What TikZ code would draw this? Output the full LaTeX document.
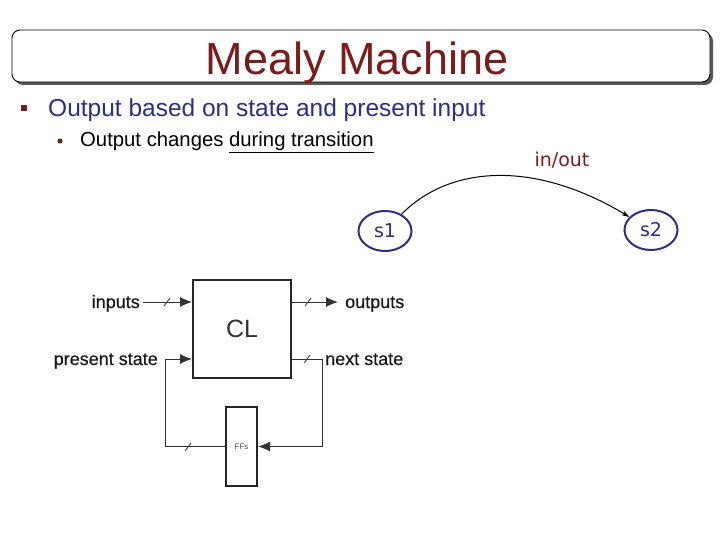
\documentclass[tikz,border=0pt]{standalone}
\usepackage{fontspec}
\setmainfont{Liberation Sans}
\newfontfamily\dejavu{DejaVu Sans}
\newfontfamily\lblfont[FakeBold=0.5]{Liberation Sans}
\usetikzlibrary{arrows.meta,shapes.geometric}
\definecolor{titlered}{HTML}{7B1C1C}
\definecolor{slideblue}{HTML}{2E2E84}
\definecolor{wiregray}{HTML}{333333}
\tikzset{
  lbl/.style={inner sep=0pt, text=black!90, font=\lblfont\fontsize{18}{18}\selectfont},
  blockbox/.style={draw=black!85, line width=2pt, inner sep=0pt},
  wire/.style={draw=wiregray, line width=1pt},
  tip/.style={-{Latex[length=12pt,width=10pt]}},
  slash/.style={draw=wiregray, line width=0.8pt},
  statenode/.style={ellipse, draw=slideblue, line width=2pt, minimum width=53pt, minimum height=40pt, inner sep=0pt, text=slideblue, font=\dejavu\fontsize{19}{19}\selectfont},
}
\begin{document}
\begin{tikzpicture}[x=1pt,y=-1pt]
\useasboundingbox (0,0) rectangle (720,540);
% title bar
\fill[black!65, rounded corners=8pt] (15,33) rectangle (713,85);
\draw[black, line width=0.9pt, fill=white, rounded corners=8pt] (12,30) rectangle (710,82);
\node[anchor=base, inner sep=0pt, text=titlered, font=\fontsize{45}{45}\selectfont] (title) at (357,75) {Mealy Machine};
% bullets
\fill[titlered] (21,105) rectangle (27,111);
\node[anchor=base west, inner sep=0pt, text=slideblue, font=\fontsize{24.5}{24.5}\selectfont] (b1) at (48,117) {Output based on state and present input};
\fill[titlered] (60,141) circle (2.6pt);
\node[anchor=base west, inner sep=0pt, text=black, font=\fontsize{20.3}{20.3}\selectfont] (b2) at (80,147) {Output changes \underline{during transition}};
% state diagram
\node[statenode] (s1) at (385,231) {s1};
\node[statenode] (s2) at (651,230) {s2};
\draw[line width=1pt, -{Stealth[length=8pt,width=5pt]}] (s1) .. controls (450,165) and (535,160) .. (s2);
\node[text=titlered, inner sep=0pt, font=\dejavu\fontsize{19}{19}\selectfont] (io) at (562,160) {in/out};
% block diagram
\node[blockbox, minimum width=98pt, minimum height=98pt, text=black!80, font=\fontsize{25}{25}\selectfont] (cl) at (242,329) {CL};
\node[blockbox, minimum width=31pt, minimum height=79pt, text=black!70, font=\fontsize{8}{8}\selectfont] (ff) at (241.5,446.5) {FFs};
\node[lbl, anchor=base east] (inp) at (140,308) {inputs};
\node[lbl, anchor=base west] (outp) at (345,308) {outputs};
\node[lbl, anchor=base east] (ps) at (158,365) {present state};
\node[lbl, anchor=base west] (ns) at (325,365) {next state};
\coordinate (inl) at (143,302);
\coordinate (outl) at (338,302);
\coordinate (psc) at (165,359);
\coordinate (nsc) at (322,359);
\draw[wire, tip] (inl) -- (cl.west |- inl);
\draw[wire, tip] (cl.east |- outl) -- (outl);
\draw[wire, tip] (psc) -- (cl.west |- psc);
\draw[wire] (psc) |- (ff.west);
\draw[wire, tip] (cl.east |- nsc) -- (nsc) |- (ff.east);
% bus slashes
\draw[slash] (164,306) -- (170,298);
\draw[slash] (305,306) -- (311,298);
\draw[slash] (304,363) -- (310,355);
\draw[slash] (185,451) -- (191,443);
\end{tikzpicture}
\end{document}
